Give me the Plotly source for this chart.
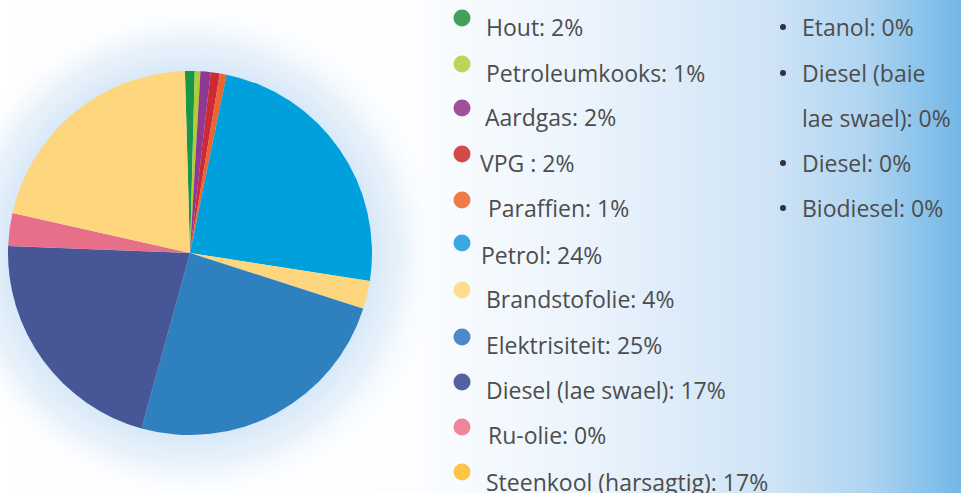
import base64
import plotly.graph_objects as go

# ---- data ----
categories = ["Hout", "Petroleumkooks", "Aardgas", "VPG", "Paraffien", "Petrol",
              "Brandstofolie", "Elektrisiteit", "Diesel (lae swael)", "Ru-olie",
              "Steenkool (harsagtig)"]
slice_values = [0.86, 0.5, 0.9, 0.8, 0.6, 24.2, 2.5, 24.3, 21.3, 2.9, 21.0]
legend_labels = ["Hout: 2%", "Petroleumkooks: 1%", "Aardgas: 2%", "VPG : 2%",
                 "Paraffien: 1%", "Petrol: 24%", "Brandstofolie: 4%",
                 "Elektrisiteit: 25%", "Diesel (lae swael): 17%", "Ru-olie: 0%",
                 "Steenkool (harsagtig): 17%"]
other_lines = ["Etanol: 0%", "Diesel (baie", "lae swael): 0%", "Diesel: 0%", "Biodiesel: 0%"]
other_bullet = [True, True, False, True, True]

slice_colors = ["#17974a", "#b5cb36", "#8f3a92", "#cb2a36", "#ee6431", "#00a0dc",
                "#fed67e", "#2f80bf", "#465697", "#e76f8a", "#fed67e"]
dot_colors = ["#43a05b", "#c0d35a", "#a04f9b", "#d24a4a", "#f07b4a", "#3aa9e1",
              "#fedd8e", "#4a8ac6", "#5560a0", "#ee8598", "#fdc446"]

W, H = 961, 493
FONT = "Open Sans"
FS = 23
TXT = "#4d4d4d"

# ---- background svg (gradient + glow) ----
svg = f'''<svg xmlns="http://www.w3.org/2000/svg" width="{W}" height="{H}" viewBox="0 0 {W} {H}">
<defs>
<linearGradient id="lg" x1="0" y1="0" x2="1" y2="0">
<stop offset="0" stop-color="#ffffff"/>
<stop offset="0.44" stop-color="#fbfdff"/>
<stop offset="0.62" stop-color="#eaf3fc"/>
<stop offset="0.80" stop-color="#cfe4f6"/>
<stop offset="0.90" stop-color="#b0d5f1"/>
<stop offset="1" stop-color="#72b7e6"/>
</linearGradient>
<radialGradient id="rg" cx="190" cy="253" r="250" gradientUnits="userSpaceOnUse">
<stop offset="0" stop-color="#d3e6f7" stop-opacity="1"/>
<stop offset="0.70" stop-color="#d3e6f7" stop-opacity="1"/>
<stop offset="0.84" stop-color="#e2eef9" stop-opacity="0.75"/>
<stop offset="1" stop-color="#ffffff" stop-opacity="0"/>
</radialGradient>
</defs>
<rect x="0" y="0" width="{W}" height="{H}" fill="url(#lg)"/>
<circle cx="190" cy="253" r="250" fill="url(#rg)"/>
</svg>'''
src = "data:image/svg+xml;base64," + base64.b64encode(svg.encode()).decode()

fig = go.Figure()
fig.add_trace(go.Pie(
    labels=categories, values=slice_values, sort=False, direction="clockwise",
    rotation=-1.6, marker=dict(colors=slice_colors, line=dict(width=0)),
    textinfo="none", hoverinfo="label+percent", showlegend=False,
    domain=dict(x=[8 / W, 372 / W], y=[1 - 435 / H, 1 - 71 / H]),
))

def px(x):
    return x / W

def py(y):
    return 1 - y / H

shapes = []
annotations = []
dot_y = [18, 64, 108, 154, 200, 243, 290, 337, 382, 427, 472]
text_y = [27, 73, 117, 163, 208, 255, 299, 345, 390, 435, 482]
text_x = [486, 486, 485, 480, 488, 481, 486, 486, 486, 488, 486]
r = 8.5
for lab, col, dy, ty, tx in zip(legend_labels, dot_colors, dot_y, text_y, text_x):
    shapes.append(dict(type="circle", xref="paper", yref="paper",
                       x0=px(462 - r), x1=px(462 + r), y0=py(dy + r), y1=py(dy - r),
                       fillcolor=col, line=dict(width=0)))
    annotations.append(dict(text=lab, xref="paper", yref="paper", x=px(tx - 2), y=py(ty),
                            xanchor="left", yanchor="middle", showarrow=False,
                            font=dict(family=FONT, size=FS, color=TXT)))

other_y = [27, 73, 118, 163, 208]
for lab, ty, b in zip(other_lines, other_y, other_bullet):
    if b:
        shapes.append(dict(type="circle", xref="paper", yref="paper",
                           x0=px(783 - 3), x1=px(783 + 3), y0=py(ty + 3), y1=py(ty - 3),
                           fillcolor="#333333", line=dict(width=0)))
    annotations.append(dict(text=lab, xref="paper", yref="paper", x=px(800), y=py(ty),
                            xanchor="left", yanchor="middle", showarrow=False,
                            font=dict(family=FONT, size=FS, color=TXT)))

fig.update_layout(
    width=W, height=H, margin=dict(l=0, r=0, t=0, b=0),
    paper_bgcolor="#ffffff", plot_bgcolor="rgba(0,0,0,0)",
    images=[dict(source=src, xref="paper", yref="paper", x=0, y=1, sizex=1, sizey=1,
                 xanchor="left", yanchor="top", sizing="stretch", layer="below")],
    shapes=shapes, annotations=annotations,
)
fig.write_html("out.html", config={"displayModeBar": False},
               post_script="document.body.style.margin='0';")
